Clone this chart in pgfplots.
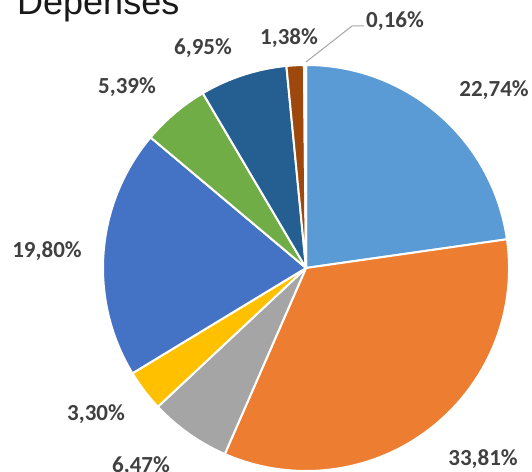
\documentclass[border=0pt]{standalone}
\usepackage{pgfplots}
\pgfplotsset{compat=1.18}
\usepackage{pgfplotstable}
\usepackage{fontspec}
\setmainfont{Carlito}
\newfontfamily\titlefont{Liberation Sans}

\definecolor{c1}{HTML}{5B9BD5}
\definecolor{c2}{HTML}{ED7D31}
\definecolor{c3}{HTML}{A5A5A5}
\definecolor{c4}{HTML}{FFC000}
\definecolor{c5}{HTML}{4472C4}
\definecolor{c6}{HTML}{70AD47}
\definecolor{c7}{HTML}{255E91}
\definecolor{c8}{HTML}{9E480E}
\definecolor{c9}{HTML}{636363}
\definecolor{lbl}{HTML}{404040}

% share (%), slice colour, label position (base of text)
\pgfplotstableread{
share col lx ly
22.74 c1 494 374
33.81 c2 483 6
6.47  c3 141 -1
3.30  c4 96  51
19.80 c5 47  213
5.39  c6 127 377
6.95  c7 203 416
1.38  c8 289 426
0.16  c9 395 443
}\depenses

\begin{document}
\begin{tikzpicture}
\begin{axis}[
    name=pie,
    x=1pt, y=1pt,
    xmin=0, xmax=532,
    ymin=0, ymax=471,
    hide axis,
    clip=false,
]
\pgfplotstablegetrowsof{\depenses}
\pgfmathtruncatemacro\nrows{\pgfplotsretval-1}
\def\cum{0}
\pgfplotsforeachungrouped \i in {0,...,\nrows}{
    \pgfplotstablegetelem{\i}{share}\of\depenses \let\v\pgfplotsretval
    \pgfplotstablegetelem{\i}{col}\of\depenses \let\c\pgfplotsretval
    \pgfplotstablegetelem{\i}{lx}\of\depenses \let\lx\pgfplotsretval
    \pgfplotstablegetelem{\i}{ly}\of\depenses \let\ly\pgfplotsretval
    \pgfmathsetmacro\a{90-3.6*\cum}
    \pgfmathsetmacro\b{90-3.6*(\cum+\v)}
    \edef\temp{%
        \noexpand\fill[\c, draw=white, line width=2pt, line join=round]
            (axis cs:306,203) -- ++(\a:203pt)
            arc[start angle=\a, end angle=\b, radius=203pt] -- cycle;
        \noexpand\node[anchor=base, text=lbl, font=\noexpand\fontsize{23}{26}\noexpand\selectfont\noexpand\bfseries]
            at (axis cs:\lx,\ly)
            {\noexpand\pgfmathprintnumber[fixed, fixed zerofill, precision=2, use comma, assume math mode=true]{\v}\noexpand\%};
    }
    \temp
    \pgfmathsetmacro\cum{\cum+\v}
}
% leader line of the smallest slice
\draw[color=black!35, line width=1pt] (axis cs:306,409) -- (axis cs:352,445) -- (axis cs:364,445);
% title, partly cut by the top edge
\node[anchor=base west, inner sep=0pt, font=\titlefont\fontsize{36}{40}\selectfont, text=black!90]
    at (axis cs:17,456) {Dépenses};
\end{axis}
\pgfresetboundingbox
\path (pie.south west) rectangle (pie.north east);
\end{tikzpicture}
\end{document}
